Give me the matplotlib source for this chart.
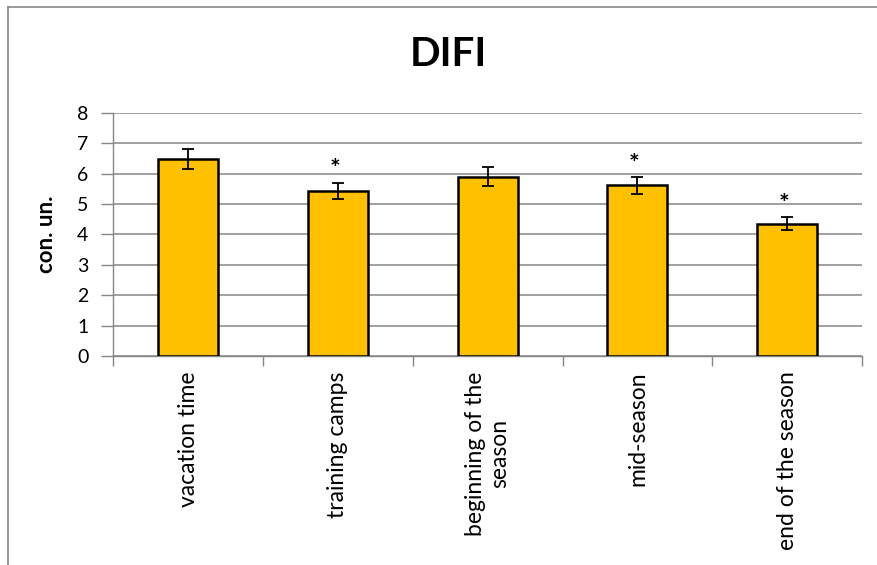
import matplotlib
matplotlib.use("Agg")
import matplotlib.pyplot as plt
import numpy as np
from matplotlib.lines import Line2D

categories = ["vacation time", "training camps", "beginning of the\nseason",
              "mid-season", "end of the season"]
means = [6.49, 5.43, 5.90, 5.61, 4.35]
errors = [0.33, 0.27, 0.30, 0.28, 0.22]
significant = [False, True, False, True, True]
yticks = [0, 1, 2, 3, 4, 5, 6, 7, 8]
title = "DIFI"
ylabel = "con. un."

W, H = 878, 565
fig = plt.figure(figsize=(W / 100, H / 100), dpi=100)
plt.rcParams['font.family'] = ['Lato', 'DejaVu Sans']

left, right, top, bottom = 113.3, 862, 112.7, 356
ax = fig.add_axes([left / W, 1 - bottom / H, (right - left) / W, (bottom - top) / H])

grey = "#868686"
x = np.arange(len(categories))
ax.bar(x, means, width=0.4, color="#FFC000", edgecolor="black", linewidth=1.8, zorder=3)
ax.errorbar(x, means, yerr=errors, fmt="none", ecolor="black", elinewidth=1.3,
            capsize=4, capthick=1.3, zorder=4)
for xi, m, e, s in zip(x, means, errors, significant):
    if s:
        ax.text(xi - 0.02, m + e + 0.17, "*", ha="center", va="baseline", fontsize=18,
                fontweight="bold", color="black", zorder=5)

ax.set_xlim(-0.5, len(categories) - 0.5)
ax.set_ylim(0, 8)
ax.set_yticks(yticks)
ax.set_yticklabels([str(t) for t in yticks], fontsize=14)
ax.yaxis.grid(True, color=grey, linewidth=1.1, zorder=0)
ax.set_axisbelow(True)

ax.set_xticks(np.arange(len(categories) + 1) - 0.5)
ax.set_xticklabels([])
ax.set_xticks(x, minor=True)
ax.set_xticklabels(categories, minor=True, rotation=90, fontsize=16.5,
                   ha="center", va="top", multialignment="center")
ax.tick_params(axis="x", which="minor", length=0, pad=11)
ax.tick_params(axis="x", which="major", length=7, color=grey, width=1.0)
ax.tick_params(axis="y", length=9, color=grey, width=1.0, pad=9)

for sp in ["top", "right"]:
    ax.spines[sp].set_visible(False)
for sp in ["left", "bottom"]:
    ax.spines[sp].set_color(grey)
    ax.spines[sp].set_linewidth(1.0)

ax.set_ylabel(ylabel, fontsize=16, fontweight="bold")
ax.yaxis.set_label_coords((57 - left) / (right - left), 0.5)

fig.text(448 / W, 1 - 55 / H, title, ha="center", va="center", fontsize=29,
         fontweight="bold")

# chart area border (only top and left visible in the crop)
fig.add_artist(Line2D([8 / W, 1], [1 - 7 / H, 1 - 7 / H], transform=fig.transFigure,
                      color=grey, linewidth=1.2))
fig.add_artist(Line2D([8 / W, 8 / W], [0, 1 - 7 / H], transform=fig.transFigure,
                      color=grey, linewidth=1.2))

fig.savefig("out.png", dpi=100)
